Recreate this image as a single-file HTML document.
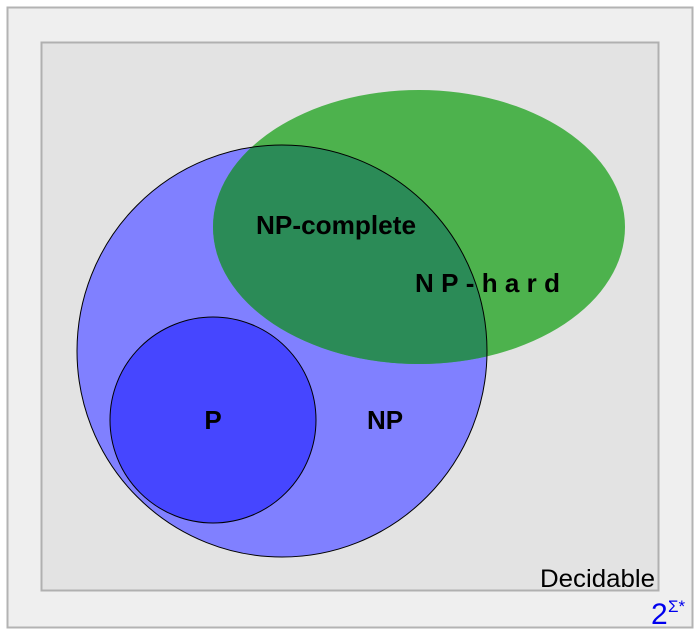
<!DOCTYPE html>
<html><head><style>body{margin:0;background:#fff}svg{display:block}</style></head><body>
<svg width="700" height="633" viewBox="0 0 700 633" xmlns="http://www.w3.org/2000/svg" font-family="Liberation Sans, sans-serif">
<defs><clipPath id="np"><ellipse cx="282" cy="351" rx="205" ry="206"/></clipPath></defs>
<rect x="7.5" y="7.5" width="685" height="620" fill="#efefef" stroke="#b3b3b3" stroke-width="2"/>
<rect x="41.5" y="42.5" width="617" height="548" fill="#e3e3e3" stroke="#b0b0b0" stroke-width="2"/>
<ellipse cx="282" cy="351" rx="205" ry="206" fill="#8080ff"/>
<ellipse cx="419" cy="227" rx="206" ry="137" fill="#4db24d"/>
<ellipse cx="419" cy="227" rx="206" ry="137" fill="#2b8b57" clip-path="url(#np)"/>
<ellipse cx="282" cy="351" rx="205" ry="206" fill="none" stroke="#000" stroke-width="1"/>
<ellipse cx="213" cy="420" rx="103" ry="103" fill="#4646ff" stroke="#000" stroke-width="1"/>
<g font-weight="bold" font-size="26" fill="#000">
<text x="336" y="234" text-anchor="middle" textLength="160" lengthAdjust="spacingAndGlyphs">NP-complete</text>
<text x="415" y="292" textLength="145" lengthAdjust="spacing">NP-hard</text>
<text x="213" y="429" text-anchor="middle">P</text>
<text x="385" y="429" text-anchor="middle">NP</text>
</g>
<text x="655" y="587" text-anchor="end" font-size="25" fill="#000" textLength="115" lengthAdjust="spacingAndGlyphs">Decidable</text>
<text x="651" y="624" font-size="30" fill="#0000ee">2</text>
<text x="668" y="612" font-size="17" fill="#0000ee">Σ*</text>
</svg>
</body></html>
